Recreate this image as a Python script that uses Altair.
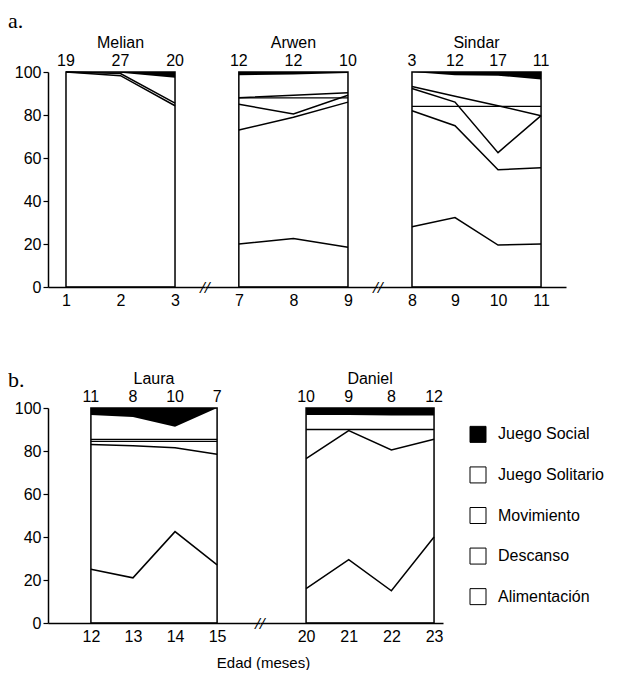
import altair as alt
import pandas as pd

FONT = "Liberation Sans"
SERIF = "Liberation Serif"
H = 215

categories = ["Juego Social", "Juego Solitario", "Movimiento", "Descanso", "Alimentación"]
category_fills = ["black", "white", "white", "white", "white"]

y_ticks = [0, 20, 40, 60, 80, 100]

# ---- panel a: Melian
melian_ages = [1, 2, 3]
melian_counts = [19, 27, 20]
melian_social = [100, 99.7, 97.3]
melian_lines = [[100, 99.3, 85.5], [100, 98.3, 84.3]]
melian_flat = []

# ---- panel a: Arwen
arwen_ages = [7, 8, 9]
arwen_counts = [12, 12, 10]
arwen_social = [98.5, 98.8, 99.5]
arwen_lines = [[88, 89.2, 90.3], [85, 80.5, 89.2], [73, 79, 86], [20, 22.5, 18.5]]
arwen_flat = [88]

# ---- panel a: Sindar
sindar_ages = [8, 9, 10, 11]
sindar_counts = [3, 12, 17, 11]
sindar_social = [100, 98.5, 98.3, 96.5]
sindar_lines = [[93.3, 88.7, 84.3, 79.7], [92.3, 86, 62.5, 79.7],
                [82, 75, 54.5, 55.5], [28, 32.3, 19.5, 20]]
sindar_flat = [84]

# ---- panel b: Laura
laura_ages = [12, 13, 14, 15]
laura_counts = [11, 8, 10, 7]
laura_social = [96.8, 95.8, 91.3, 100]
laura_lines = [[83, 82.4, 81.5, 78.5], [25, 21, 42.5, 27]]
laura_flat = [84.5, 85.4]

# ---- panel b: Daniel
daniel_ages = [20, 21, 22, 23]
daniel_counts = [10, 9, 8, 12]
daniel_social = [96.8, 96.8, 96.5, 96.5]
daniel_lines = [[76.5, 89.5, 80.5, 85.5], [16, 29.5, 15, 40]]
daniel_flat = [90]


def make_panel(name, ages, counts, social, lines, flats, x_domain, width,
               y_axis=False, break_mark=False, tag=None, tag_y=0,
               x_title=None, x_title_x=0):
    pts = pd.DataFrame({"edad": ages, "n": counts, "social": social})
    line_df = pd.DataFrame([{"edad": a, "v": v, "serie": f"s{i}"}
                            for i, serie in enumerate(lines)
                            for a, v in zip(ages, serie)])
    frame_df = pd.DataFrame({"x0": [ages[0]], "x1": [ages[-1]]})

    xscale = alt.Scale(domain=x_domain, nice=False, zero=False)
    yscale = alt.Scale(domain=[0, 100], nice=False, zero=True)
    ax_kw = dict(values=ages, format="d", ticks=False, labelPadding=5, grid=False)
    if x_title:
        ax_kw.update(title=x_title, titleX=x_title_x, titleAlign="center",
                     titlePadding=11)
    else:
        ax_kw.update(title=None)
    xaxis = alt.Axis(**ax_kw)
    if y_axis:
        yaxis = alt.Axis(values=y_ticks, tickSize=5, labelPadding=2, title=None, grid=False)
    else:
        yaxis = None

    def X(field):
        return alt.X(field, scale=xscale, axis=xaxis)

    def Y(field):
        return alt.Y(field, scale=yscale, axis=yaxis)

    layers = []
    layers.append(alt.Chart(pts).mark_area(color="black", interpolate="linear").encode(
        x=X("edad:Q"), y=Y("social:Q"), y2=alt.datum(100)))
    layers.append(alt.Chart(line_df).mark_line(color="black", strokeWidth=1.5).encode(
        x=X("edad:Q"), y=Y("v:Q"), detail="serie:N"))
    if flats:
        flat_df = pd.DataFrame({"x0": [ages[0]] * len(flats),
                                "x1": [ages[-1]] * len(flats), "v": flats})
        layers.append(alt.Chart(flat_df).mark_rule(color="black", strokeWidth=1.3).encode(
            x=X("x0:Q"), x2="x1:Q", y=Y("v:Q")))
    layers.append(alt.Chart(frame_df).mark_rect(
        fillOpacity=0, stroke="black", strokeWidth=1.5).encode(
        x=X("x0:Q"), x2="x1:Q", y=alt.datum(0), y2=alt.datum(100)))
    layers.append(alt.Chart(pts).mark_text(fontSize=16, baseline="middle", font=FONT).encode(
        x=X("edad:Q"), y=alt.value(-11), text="n:Q"))
    layers.append(alt.Chart(frame_df).mark_text(
        text=name, fontSize=16, baseline="middle", font=FONT).encode(
        x=alt.datum((ages[0] + ages[-1]) / 2), y=alt.value(-29)))
    if break_mark:
        layers.append(alt.Chart(frame_df).mark_text(
            text="//", fontSize=17, fontStyle="italic", fontWeight="bold",
            font=SERIF, baseline="middle").encode(
            x=alt.value(width), y=alt.value(H + 1)))
    if tag:
        layers.append(alt.Chart(frame_df).mark_text(
            text=tag, fontSize=22, font=SERIF, align="left",
            baseline="alphabetic").encode(
            x=alt.value(-40), y=alt.value(tag_y)))
    return alt.layer(*layers).properties(width=width, height=H)


p_melian = make_panel("Melian", melian_ages, melian_counts, melian_social, melian_lines,
                      melian_flat, [0.67, 3.55], 157, y_axis=True, break_mark=True,
                      tag="a.", tag_y=-44)
p_arwen = make_panel("Arwen", arwen_ages, arwen_counts, arwen_social, arwen_lines,
                     arwen_flat, [6.38, 9.55], 173, break_mark=True)
p_sindar = make_panel("Sindar", sindar_ages, sindar_counts, sindar_social, sindar_lines,
                      sindar_flat, [7.21, 11.58], 188)
p_laura = make_panel("Laura", laura_ages, laura_counts, laura_social, laura_lines,
                     laura_flat, [10.98, 16.02], 212, y_axis=True, break_mark=True,
                     tag="b.", tag_y=-21, x_title="Edad (meses)", x_title_x=215)
p_daniel = make_panel("Daniel", daniel_ages, daniel_counts, daniel_social, daniel_lines,
                      daniel_flat, [18.92, 23.21], 183)

legend_df = pd.DataFrame({"cat": categories})
ly = alt.Y("cat:N", sort=categories, axis=None, scale=alt.Scale(padding=0.65))
leg_squares = alt.Chart(legend_df).mark_square(size=256, stroke="black", strokeWidth=1,
                                               opacity=1).encode(
    x=alt.value(35), y=ly,
    fill=alt.Fill("cat:N", scale=alt.Scale(domain=categories, range=category_fills),
                  legend=None))
leg_text = alt.Chart(legend_df).mark_text(align="left", baseline="middle", fontSize=16,
                                          font=FONT).encode(
    x=alt.value(55), y=ly, text="cat:N")
p_legend = alt.layer(leg_squares, leg_text).properties(width=160, height=H)

row_a = alt.hconcat(p_melian, p_arwen, p_sindar, spacing=0, bounds="flush")
row_b = alt.hconcat(p_laura, p_daniel, p_legend, spacing=0, bounds="flush")

chart = alt.vconcat(row_a, row_b, spacing=61).properties(
    padding={"left": 0, "top": 2, "right": 0, "bottom": 0}
).configure_view(stroke=None).configure_axis(
    labelFont=FONT, labelFontSize=16, labelColor="black",
    domainColor="black", domainWidth=1.5, tickColor="black", tickWidth=1.2,
    titleFont=FONT, titleFontSize=15, titleColor="black", titleFontWeight="normal"
).configure_text(color="black")

chart.save("out.html", embed_options={"renderer": "svg", "actions": False})
